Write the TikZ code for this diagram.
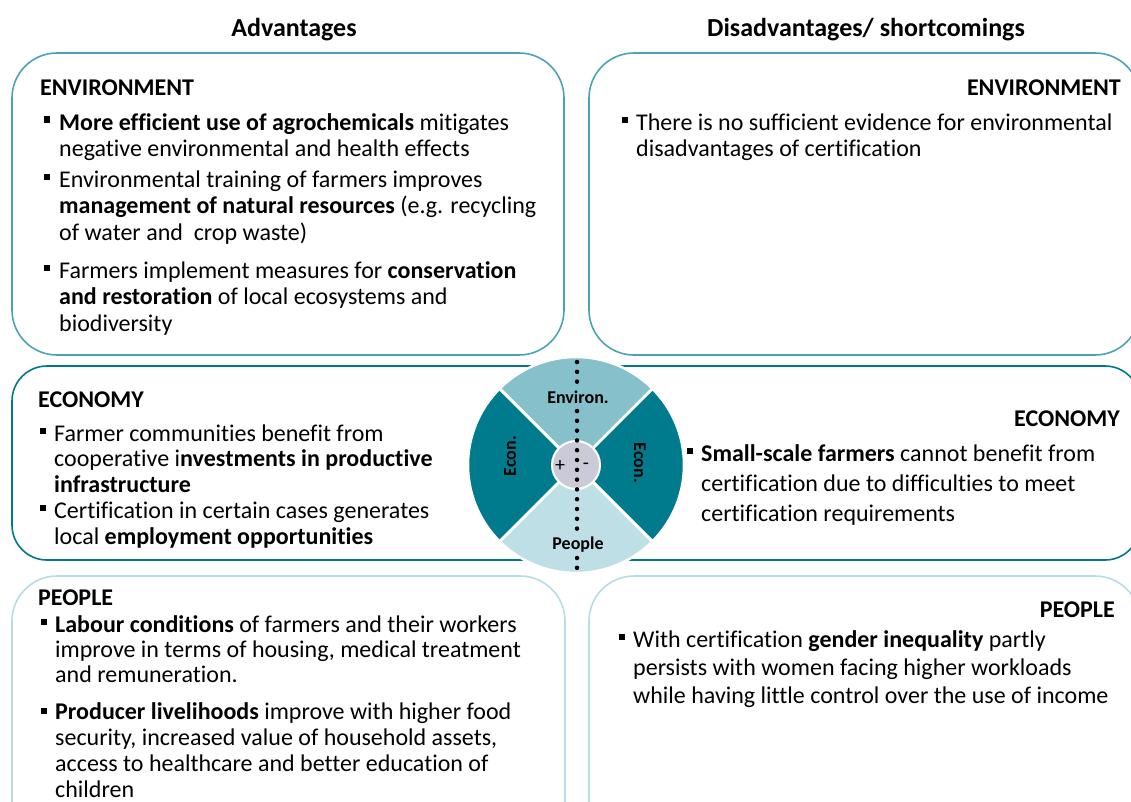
\documentclass[tikz,border=0pt]{standalone}
\usepackage{fontspec}
\setmainfont[Ligatures=NoCommon]{Carlito}
\definecolor{envline}{HTML}{4BA3B5}
\definecolor{ecoline}{HTML}{00788A}
\definecolor{pplline}{HTML}{B5DDE5}
\definecolor{envsec}{HTML}{86C0CB}
\definecolor{ecosec}{HTML}{007B8E}
\definecolor{pplsec}{HTML}{BEDFE5}
\definecolor{hubfill}{HTML}{CBCAD8}
\begin{document}
\begin{tikzpicture}[x=1pt, y=-1pt,
  panel/.style = {line width=1.6pt, rounded corners=45pt},
  title/.style = {font=\fontsize{26}{30}\selectfont\bfseries, inner sep=0pt, anchor=base},
  head/.style = {font=\fontsize{24}{28}\selectfont\bfseries, inner sep=0pt},
  body/.style = {font=\fontsize{24}{26.5}\selectfont, align=left, inner sep=0pt, anchor=base west},
  blt/.style = {fill=black, inner sep=0pt, minimum size=6.5pt},
  sector/.style = {draw=white, line width=2.5pt},
  seclabel/.style = {font=\fontsize{18}{20}\selectfont\bfseries, inner sep=1.5pt},
  dotline/.style = {line width=4.5pt, line cap=round, dash pattern=on 0pt off 9.8pt}]
\useasboundingbox (0,0) rectangle (1131,801);
\clip (0,0) rectangle (1131,801);

% column titles
\node[title] (advtitle) at (294,36) {Advantages};
\node[title] (distitle) at (866,36) {Disadvantages/ shortcomings};

% panels
\draw[panel, envline] (12,53) rectangle (564,355);
\draw[panel, envline] (589,53) rectangle (1140,355);
\draw[panel, ecoline, rounded corners=35pt] (12,366) rectangle (600,560);
\draw[panel, ecoline, rounded corners=35pt] (555,366) rectangle (1140,560);
\draw[panel, pplline] (12,576) rectangle (565,850);
\draw[panel, pplline] (589,576) rectangle (1140,850);

% environment, advantages (body nodes sit on their last baseline)
\node[head, anchor=base west] (envL) at (40,95) {ENVIRONMENT};
\node[blt] (envLb1) at (47,119.5) {};
\node[body] (envLt1) at (59,156.5) {\textbf{More efficient use of agrochemicals} mitigates\\negative environmental and health effects};
\node[blt] (envLb2) at (47,177) {};
\node[body] (envLt2) at (59,240) {Environmental training of farmers improves\\\textbf{management of natural resources} (e.g. recycling\\of water and\ \ crop waste)};
\node[blt] (envLb3) at (47,268) {};
\node[body] (envLt3) at (59,331) {Farmers implement measures for \textbf{conservation}\\\textbf{and restoration} of local ecosystems and\\biodiversity};

% environment, disadvantages
\node[head, anchor=base east] (envR) at (1121,95) {ENVIRONMENT};
\node[blt] (envRb1) at (625,120) {};
\node[body] (envRt1) at (636,156.5) {There is no sufficient evidence for environmental\\disadvantages of certification};

% economy, advantages
\node[head, anchor=base west] (ecoL) at (38,407) {ECONOMY};
\node[blt] (ecoLb1) at (43,431) {};
\node[body, font=\fontsize{24}{25.5}\selectfont] (ecoLt1) at (54,492) {Farmer communities benefit from\\cooperative i\textbf{nvestments in productive}\\\textbf{infrastructure}};
\node[blt] (ecoLb2) at (43,508) {};
\node[body, font=\fontsize{24}{25.5}\selectfont] (ecoLt2) at (54,544) {Certification in certain cases generates\\local \textbf{employment opportunities}};

% economy, disadvantages
\node[head, anchor=base east] (ecoR) at (1120,426) {ECONOMY};
\node[blt] (ecoRb1) at (690,451) {};
\node[body, font=\fontsize{24}{30}\selectfont] (ecoRt1) at (701,521) {\textbf{Small-scale farmers} cannot benefit from\\certification due to difficulties to meet\\certification requirements};

% people, advantages
\node[head, anchor=base west] (pplL) at (38,605) {PEOPLE};
\node[blt] (pplLb1) at (44,622) {};
\node[body, font=\fontsize{24}{25}\selectfont] (pplLt1) at (55,682) {\textbf{Labour conditions} of farmers and their workers\\improve in terms of housing, medical treatment\\and remuneration.};
\node[blt] (pplLb2) at (44,711) {};
\node[body, font=\fontsize{24}{25.7}\selectfont] (pplLt2) at (55,797) {\textbf{Producer livelihoods} improve with higher food\\security, increased value of household assets,\\access to healthcare and better education of\\children};

% people, disadvantages
\node[head, anchor=base east] (pplR) at (1115,617) {PEOPLE};
\node[blt] (pplRb1) at (622,637) {};
\node[body, font=\fontsize{24}{28}\selectfont] (pplRt1) at (633,703) {With certification \textbf{gender inequality} partly\\persists with women facing higher workloads\\while having little control over the use of income};

% the wheel
\coordinate (hubc) at (576,465);
\fill[sector, fill=envsec] (hubc) -- ++(225:108) arc[start angle=225, end angle=315, radius=108] -- cycle;
\fill[sector, fill=ecosec] (hubc) -- ++(135:108) arc[start angle=135, end angle=225, radius=108] -- cycle;
\fill[sector, fill=pplsec] (hubc) -- ++(45:108) arc[start angle=45, end angle=135, radius=108] -- cycle;
\fill[sector, fill=ecosec] (hubc) -- ++(-45:108) arc[start angle=-45, end angle=45, radius=108] -- cycle;
\draw[sector] (hubc) ++(45:110) -- ++(225:220);
\draw[sector] (hubc) ++(135:110) -- ++(315:220);
\node[circle, fill=hubfill, draw=white, line width=2pt, minimum size=48pt, inner sep=0pt] (hub) at (hubc) {};
\coordinate (dtop) at (577,362);
\coordinate (dbot) at (577,572);
\draw[dotline] (dtop) -- (dbot);
\node[seclabel, fill=envsec] (envsl) at (578,397) {Environ.};
\node[seclabel, fill=pplsec] (pplsl) at (578,545) {People};
\node[seclabel, rotate=90] (ecosl1) at (510,456) {Econ.};
\node[seclabel, rotate=-90] (ecosl2) at (640,463) {Econ.};
\node[font=\fontsize{20}{22}\selectfont, inner sep=0pt] (plus) at (560,466) {+};
\node[font=\fontsize{20}{22}\selectfont, inner sep=0pt] (minus) at (586,466) {-};
\end{tikzpicture}
\end{document}
